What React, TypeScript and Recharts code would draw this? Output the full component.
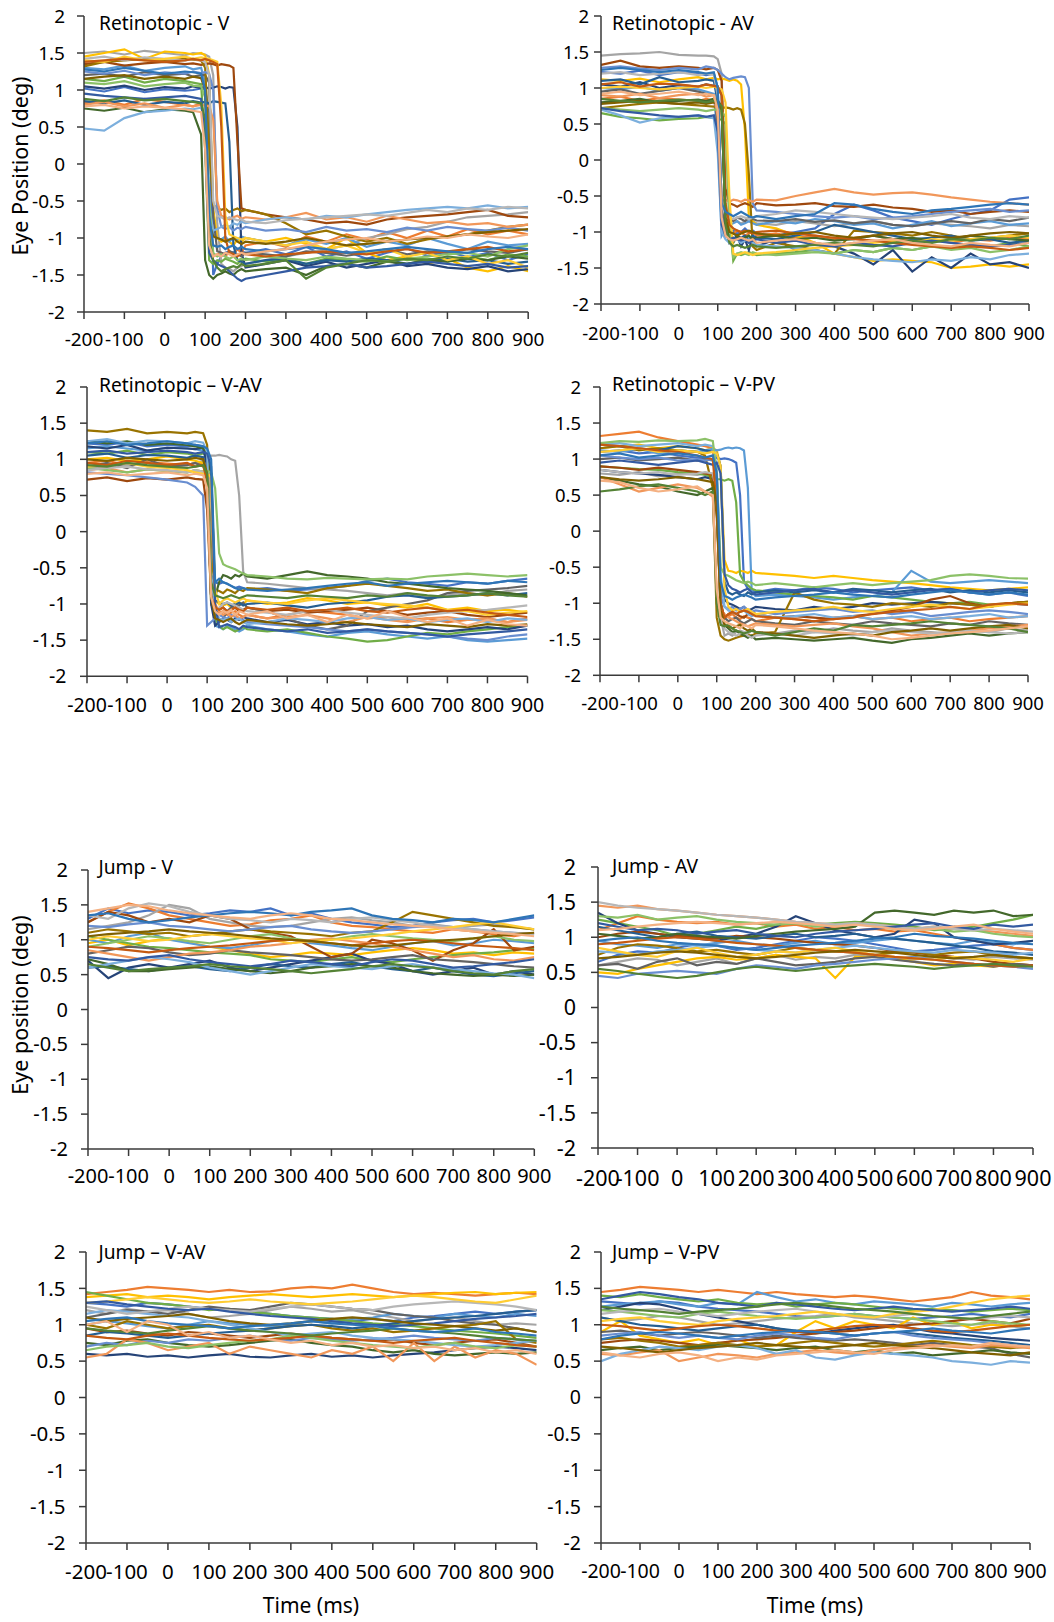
import React from 'react';
import { LineChart, Line, XAxis, YAxis } from 'recharts';

const FONT = "'Noto Sans', sans-serif";
const AXIS = '#3a3a3a';

const retinoTimes = [-200, -150, -100, -50, 0, 50, 70, 90, 100, 110, 120, 130, 140, 150, 160, 170, 180, 190, 200, 250, 300, 350, 400, 450, 500, 550, 600, 650, 700, 750, 800, 850, 900];
const jumpTimes = [-200, -150, -100, -50, 0, 50, 100, 150, 200, 250, 300, 350, 400, 450, 500, 550, 600, 650, 700, 750, 800, 850, 900];
const xTicks = [-200, -100, 0, 100, 200, 300, 400, 500, 600, 700, 800, 900];
const yTicks = [-2, -1.5, -1, -0.5, 0, 0.5, 1, 1.5, 2];
const colors = ['#4472C4', '#ED7D31', '#A5A5A5', '#FFC000', '#5B9BD5', '#70AD47', '#264478', '#9E480E', '#636363', '#997300', '#255E91', '#43682B', '#698ED0', '#F1975A', '#7CAFDD', '#8CC168', '#B7B7B7', '#FFCD33', '#335AA1', '#C55A11', '#7F6000', '#548235', '#2E75B6', '#F4B183'];

const retinotopicV: number[][] = [
  [1.02,0.98,1.04,0.97,1.01,0.99,1.0,1.02, 1.0,0.7,-1.5,-1.35,-1.25,-1.2,-1.18,-1.2,-1.15,-1.18,-1.2, -1.15,-1.22,-1.12,-1.25,-1.18,-1.28,-1.2,-1.14,-1.24,-1.18,-1.26,-1.2,-1.3,-1.22],
  [0.82,0.86,0.8,0.88,0.84,0.8,0.78,0.82, 0.4,-0.9,-1.25,-1.22,-1.2,-1.25,-1.18,-1.22,-1.15,-1.2,-1.1, -1.05,-1.12,-0.98,-1.05,-0.95,-1.02,-0.92,-1.0,-0.9,-0.98,-0.88,-0.95,-0.9,-0.95],
  [1.5,1.52,1.48,1.53,1.5,1.47,1.5,1.49, 1.48,1.45,1.2,-0.8,-1.35,-1.4,-1.42,-1.45,-1.4,-1.38,-1.35, -1.3,-1.25,-1.2,-1.15,-1.1,-1.0,-0.95,-0.88,-0.85,-0.78,-0.72,-0.7,-0.68,-0.65],
  [1.45,1.5,1.55,1.42,1.52,1.5,1.48,1.5, 1.47,1.2,-0.6,-1.0,-1.05,-1.02,-1.05,-1.1,-1.02,-1.05,-1.0, -1.05,-1.0,-1.08,-1.15,-1.0,-1.2,-1.3,-1.25,-1.35,-1.28,-1.4,-1.45,-1.38,-1.45],
  [1.3,1.28,1.33,1.26,1.3,1.32,1.28,1.3, 1.1,-0.5,-0.95,-1.0,-1.02,-0.98,-1.05,-1.0,-1.02,-0.98,-1.0, -1.05,-1.1,-1.02,-1.08,-1.0,-1.12,-1.05,-1.1,-1.0,-1.08,-1.15,-1.05,-1.1,-1.08],
  [1.15,1.12,1.18,1.1,1.15,1.12,1.1,1.08, 0.2,-1.3,-1.35,-1.3,-1.32,-1.28,-1.3,-1.32,-1.35,-1.3,-1.28, -1.32,-1.3,-1.35,-1.28,-1.3,-1.32,-1.25,-1.3,-1.28,-1.32,-1.25,-1.3,-1.22,-1.25],
  [1.05,1.02,1.06,1.0,1.04,1.02,1.05,1.03, 1.04,1.02,1.03,1.05,1.04,1.02,1.04,1.03,0.5,-1.2,-1.4, -1.35,-1.3,-1.38,-1.32,-1.4,-1.35,-1.3,-1.38,-1.35,-1.4,-1.42,-1.38,-1.45,-1.42],
  [1.35,1.38,1.33,1.36,1.38,1.35,1.36,1.34, 1.35,1.36,1.35,1.33,1.35,1.34,1.33,1.3,0.3,-0.6,-0.62, -0.68,-0.72,-0.75,-0.8,-0.78,-0.82,-0.75,-0.72,-0.7,-0.68,-0.65,-0.62,-0.7,-0.72],
  [1.2,1.22,1.18,1.24,1.2,1.22,1.18,1.2, 1.2,1.1,-0.7,-1.18,-1.2,-1.22,-1.18,-1.2,-1.22,-1.25,-1.2, -1.22,-1.25,-1.18,-1.2,-1.24,-1.2,-1.15,-1.22,-1.18,-1.2,-1.15,-1.18,-1.2,-1.15],
  [1.32,1.38,1.4,1.42,1.4,1.42,1.41,1.4, 1.3,0.2,-0.55,-0.6,-0.62,-0.6,-0.65,-0.62,-0.6,-0.64,-0.62, -0.68,-0.8,-0.95,-0.9,-0.98,-1.05,-1.0,-1.08,-1.02,-0.98,-0.95,-0.9,-0.85,-0.82],
  [0.85,0.82,0.86,0.8,0.84,0.82,0.85,0.83, 0.84,0.82,0.85,0.84,0.83,0.82,0.3,-1.1,-1.3,-1.32,-1.35, -1.3,-1.28,-1.35,-1.3,-1.32,-1.28,-1.3,-1.35,-1.3,-1.28,-1.32,-1.3,-1.35,-1.32],
  [0.75,0.72,0.76,0.7,0.74,0.72,0.7,0.4, -1.3,-1.5,-1.55,-1.5,-1.48,-1.45,-1.48,-1.5,-1.45,-1.42,-1.45, -1.42,-1.4,-1.5,-1.38,-1.35,-1.4,-1.32,-1.35,-1.3,-1.32,-1.28,-1.3,-1.25,-1.28],
  [1.25,1.22,1.26,1.2,1.24,1.22,1.25,1.23, 1.24,1.22,1.0,-0.6,-0.85,-0.88,-0.85,-0.9,-0.86,-0.88,-0.85, -0.9,-0.88,-0.92,-0.85,-0.9,-0.88,-0.92,-0.86,-0.9,-0.85,-0.88,-0.9,-0.86,-0.9],
  [0.8,0.84,0.78,0.82,0.76,0.8,0.78,0.8, 0.79,0.78,0.6,-0.5,-0.7,-0.72,-0.75,-0.72,-0.7,-0.74,-0.72, -0.75,-0.72,-0.66,-0.75,-0.72,-0.78,-0.7,-0.75,-0.8,-0.78,-0.82,-0.8,-0.85,-0.82],
  [0.48,0.45,0.62,0.7,0.72,0.75,0.74,0.76, 0.6,-0.6,-0.9,-0.88,-0.85,-0.82,-0.85,-0.8,-0.82,-0.78,-0.8, -0.75,-0.72,-0.75,-0.7,-0.72,-0.68,-0.65,-0.62,-0.6,-0.58,-0.6,-0.56,-0.6,-0.58],
  [1.1,1.08,1.12,1.05,1.08,1.1,1.06,1.05, 0.9,-0.5,-1.2,-1.25,-1.22,-1.25,-1.28,-1.25,-1.3,-1.28,-1.3, -1.25,-1.28,-1.3,-1.25,-1.28,-1.3,-1.32,-1.28,-1.25,-1.22,-1.2,-1.25,-1.15,-1.1],
  [1.42,1.45,1.4,1.44,1.42,1.4,1.42,1.4, 1.38,1.2,-0.5,-0.7,-0.72,-0.75,-0.72,-0.74,-0.76,-0.75,-0.78, -0.8,-0.76,-0.74,-0.72,-0.7,-0.68,-0.7,-0.66,-0.62,-0.65,-0.6,-0.62,-0.58,-0.6],
  [1.4,1.38,1.45,1.4,1.42,1.45,1.42,1.44, 1.43,1.42,1.4,1.38,0.8,-0.7,-0.95,-0.98,-1.0,-1.02,-1.0, -1.05,-1.1,-1.05,-1.15,-1.1,-1.2,-1.15,-1.25,-1.2,-1.3,-1.25,-1.35,-1.3,-1.4],
  [0.95,0.92,0.9,0.88,0.9,0.92,0.9,0.88, 0.3,-1.2,-1.3,-1.35,-1.38,-1.4,-1.45,-1.5,-1.55,-1.58,-1.55, -1.5,-1.45,-1.4,-1.38,-1.35,-1.4,-1.38,-1.35,-1.32,-1.35,-1.38,-1.35,-1.4,-1.38],
  [1.38,1.4,1.42,1.4,1.38,1.4,1.42,1.4, 1.42,1.4,1.38,1.35,0.5,-1.0,-1.2,-1.22,-1.25,-1.2,-1.22, -1.25,-1.22,-1.2,-1.18,-1.2,-1.22,-1.18,-1.15,-1.2,-1.18,-1.15,-1.12,-1.18,-1.15],
  [1.15,1.18,1.2,1.15,1.18,1.15,1.18,1.16, 1.0,-0.8,-0.98,-1.0,-1.02,-1.05,-1.02,-1.0,-1.05,-1.08,-1.05, -1.08,-1.05,-1.0,-1.05,-1.1,-1.08,-1.05,-1.02,-1.0,-0.98,-0.95,-0.92,-0.9,-0.88],
  [0.88,0.85,0.9,0.86,0.88,0.85,0.84,0.82, 0.6,-1.0,-1.3,-1.4,-1.45,-1.42,-1.4,-1.38,-1.4,-1.35,-1.38, -1.35,-1.3,-1.55,-1.4,-1.35,-1.3,-1.32,-1.28,-1.3,-1.25,-1.28,-1.22,-1.25,-1.2],
  [1.28,1.25,1.3,1.26,1.22,1.25,1.24,1.22, 1.0,-0.7,-1.1,-1.12,-1.1,-1.15,-1.12,-1.1,-1.15,-1.12,-1.15, -1.18,-1.15,-1.12,-1.15,-1.2,-1.18,-1.15,-1.12,-1.15,-1.18,-1.2,-1.15,-1.12,-1.15],
  [0.78,0.8,0.75,0.78,0.76,0.74,0.72,0.7, 0.2,-1.1,-1.25,-1.22,-1.25,-1.2,-1.22,-1.25,-1.22,-1.2,-1.22, -1.18,-1.15,-1.1,-1.05,-1.02,-1.0,-1.05,-1.02,-0.98,-1.0,-0.95,-0.98,-1.0,-0.95],
];

const retinotopicAV: number[][] = [
  [1.22,1.2,1.24,1.18,1.22,1.2,1.18,1.2, 1.0,-0.6,-1.05,-1.0,-0.98,-1.02,-1.0,-0.95,-1.0,-0.98,-1.02, -1.05,-1.0,-0.95,-0.75,-0.62,-0.7,-0.8,-0.85,-0.9,-0.82,-0.75,-0.7,-0.55,-0.52],
  [0.85,0.88,0.82,0.86,0.84,0.82,0.85,0.83, 0.84,0.7,-0.8,-1.0,-1.02,-0.98,-1.0,-1.05,-1.02,-1.0,-1.05, -1.02,-1.08,-1.05,-1.1,-1.08,-1.05,-1.1,-1.12,-1.1,-1.15,-1.1,-1.12,-1.08,-1.1],
  [1.45,1.47,1.48,1.5,1.46,1.45,1.45,1.44, 1.4,1.2,-0.7,-0.85,-0.82,-0.85,-0.88,-0.85,-0.82,-0.85,-0.88, -0.9,-0.85,-0.88,-0.92,-0.88,-0.85,-0.9,-0.92,-0.88,-0.9,-0.92,-0.95,-0.9,-0.92],
  [1.12,1.1,1.13,1.08,1.12,1.15,1.12,1.14, 1.12,1.13,1.12,1.1,1.12,1.1,1.05,0.4,-0.8,-0.85,-0.9, -0.95,-1.05,-1.15,-1.3,-1.35,-1.4,-1.38,-1.4,-1.42,-1.5,-1.48,-1.45,-1.48,-1.45],
  [1.0,0.98,1.02,0.96,1.0,0.98,0.95,0.92, 0.3,-1.05,-0.95,-0.9,-0.88,-0.85,-0.9,-0.88,-0.85,-0.88,-0.9, -0.85,-0.88,-0.82,-0.85,-0.9,-0.88,-0.95,-0.9,-0.85,-0.92,-0.88,-0.85,-0.9,-0.88],
  [0.65,0.6,0.58,0.55,0.57,0.58,0.6,0.58, 0.57,0.56,0.5,-0.8,-1.4,-1.3,-1.32,-1.3,-1.28,-1.3,-1.32, -1.3,-1.28,-1.25,-1.3,-1.25,-1.28,-1.22,-1.25,-1.2,-1.22,-1.18,-1.2,-1.15,-1.2],
  [1.05,1.02,1.08,1.0,1.04,1.02,1.05,1.03, 1.02,0.9,-0.9,-1.15,-1.1,-1.05,-1.2,-1.1,-1.25,-1.05,-1.2, -1.1,-1.25,-1.15,-1.2,-1.3,-1.45,-1.25,-1.55,-1.35,-1.5,-1.3,-1.45,-1.42,-1.5],
  [1.32,1.38,1.3,1.28,1.3,1.28,1.26,1.28, 1.25,1.1,-0.4,-0.6,-0.62,-0.65,-0.62,-0.6,-0.62,-0.65,-0.6, -0.63,-0.62,-0.6,-0.64,-0.65,-0.62,-0.66,-0.68,-0.72,-0.7,-0.75,-0.72,-0.7,-0.72],
  [0.95,0.98,0.92,0.96,1.0,0.95,0.92,0.9, 0.5,-0.7,-0.85,-0.82,-0.85,-0.8,-0.82,-0.85,-0.8,-0.82,-0.84, -0.85,-0.82,-0.86,-0.84,-0.88,-0.85,-0.9,-0.92,-0.88,-0.85,-0.88,-0.82,-0.85,-0.8],
  [0.72,0.75,0.78,0.8,0.78,0.76,0.75,0.74, 0.75,0.72,0.73,0.72,0.7,0.72,0.7,0.5,-0.2,-1.2,-1.25, -1.15,-1.2,-1.25,-1.3,-0.98,-1.0,-1.02,-1.05,-1.0,-1.05,-1.1,-1.08,-1.05,-1.02],
  [1.1,1.12,1.05,1.15,1.08,1.1,1.12,1.1, 0.8,-0.8,-1.0,-1.05,-1.02,-1.05,-1.08,-1.05,-1.1,-1.05,-1.08, -1.1,-1.05,-1.0,-0.9,-0.95,-1.0,-1.05,-1.1,-1.08,-1.05,-1.12,-1.1,-1.15,-1.12],
  [0.8,0.82,0.85,0.8,0.82,0.84,0.82,0.85, 0.82,0.75,-0.9,-1.1,-1.15,-1.05,-1.1,-1.08,-1.05,-1.1,-1.08, -1.05,-1.1,-1.08,-1.12,-1.1,-1.05,-1.1,-1.08,-1.12,-1.1,-1.05,-1.08,-1.1,-1.12],
  [1.28,1.3,1.27,1.25,1.28,1.26,1.3,1.28, 1.25,1.2,1.15,1.12,1.14,1.15,1.16,1.15,1.0,-0.6,-0.7, -0.72,-0.75,-0.78,-0.8,-0.78,-0.82,-0.8,-0.78,-0.75,-0.72,-0.7,-0.68,-0.72,-0.7],
  [0.9,0.88,0.92,0.86,0.9,0.92,0.88,0.9, 0.6,-0.5,-0.55,-0.58,-0.55,-0.56,-0.58,-0.55,-0.56,-0.58,-0.55, -0.56,-0.5,-0.45,-0.4,-0.45,-0.48,-0.46,-0.45,-0.48,-0.52,-0.55,-0.58,-0.6,-0.62],
  [0.7,0.62,0.52,0.58,0.6,0.62,0.6,0.58, 0.1,-1.0,-1.1,-1.15,-1.12,-1.1,-1.15,-1.12,-1.1,-1.15,-1.18, -1.2,-1.22,-1.25,-1.3,-1.35,-1.38,-1.4,-1.42,-1.38,-1.4,-1.35,-1.38,-1.32,-1.3],
  [0.72,0.7,0.68,0.7,0.72,0.7,0.68,0.7, 0.7,0.68,0.6,-0.9,-1.35,-1.3,-1.28,-1.3,-1.32,-1.28,-1.3, -1.32,-1.3,-1.28,-1.3,-1.25,-1.28,-1.22,-1.25,-1.2,-1.25,-1.22,-1.28,-1.25,-1.2],
  [1.2,1.22,1.18,1.2,1.22,1.18,1.2,1.18, 0.9,-0.6,-0.78,-0.8,-0.82,-0.8,-0.78,-0.8,-0.82,-0.8,-0.78, -0.75,-0.7,-0.72,-0.75,-0.78,-0.8,-0.82,-0.8,-0.78,-0.75,-0.8,-0.82,-0.78,-0.8],
  [1.0,1.02,1.0,0.98,1.0,1.02,1.0,1.02, 1.0,0.98,0.8,-0.5,-1.3,-1.32,-1.3,-1.28,-1.3,-1.32,-1.3, -1.28,-1.25,-1.22,-1.2,-1.18,-1.15,-1.12,-1.15,-1.1,-1.12,-1.1,-1.08,-1.05,-1.08],
  [0.72,0.68,0.65,0.62,0.6,0.62,0.6,0.62, 0.4,-0.9,-1.05,-1.1,-1.08,-1.1,-1.12,-1.1,-1.15,-1.12,-1.1, -1.15,-1.12,-1.18,-1.2,-1.15,-1.18,-1.2,-1.15,-1.12,-1.15,-1.18,-1.2,-1.18,-1.15],
  [1.05,1.08,1.02,1.06,1.05,1.02,1.05,1.03, 1.02,0.9,-0.6,-0.9,-0.95,-0.98,-1.0,-0.98,-1.0,-1.02,-1.0, -0.98,-1.02,-1.05,-1.08,-1.1,-1.12,-1.15,-1.18,-1.2,-1.22,-1.2,-1.22,-1.25,-1.22],
  [0.78,0.8,0.82,0.8,0.78,0.8,0.78,0.8, 0.78,0.7,-0.8,-1.0,-1.02,-1.05,-1.02,-1.0,-0.98,-1.0,-1.02, -1.05,-1.02,-1.0,-1.05,-1.08,-1.05,-1.02,-1.0,-1.05,-1.08,-1.05,-1.02,-1.0,-1.02],
  [0.85,0.82,0.8,0.82,0.84,0.82,0.8,0.82, 0.8,0.75,-0.9,-1.15,-1.2,-1.18,-1.2,-1.22,-1.2,-1.18,-1.2, -1.22,-1.2,-1.18,-1.15,-1.18,-1.2,-1.15,-1.12,-1.15,-1.1,-1.12,-1.08,-1.1,-1.05],
  [1.25,1.28,1.25,1.22,1.25,1.22,1.2,1.22, 1.0,-0.6,-0.72,-0.75,-0.78,-0.75,-0.72,-0.75,-0.78,-0.8,-0.78, -0.82,-0.78,-0.75,-0.6,-0.62,-0.68,-0.72,-0.75,-0.7,-0.68,-0.65,-0.62,-0.6,-0.62],
  [0.92,0.95,0.9,0.92,0.95,0.9,0.92,0.9, 0.7,-0.8,-1.05,-1.1,-1.12,-1.1,-1.08,-1.1,-1.12,-1.1,-1.15, -1.12,-1.1,-1.15,-1.18,-1.15,-1.12,-1.1,-1.15,-1.18,-1.2,-1.15,-1.18,-1.2,-1.15],
];

const retinotopicVAV: number[][] = [
  [1.22,1.2,1.24,1.18,1.2,1.18,1.2,1.18, 1.0,-0.6,-0.7,-0.72,-0.7,-0.72,-0.75,-0.78,-0.76,-0.78,-0.8, -0.78,-0.82,-0.8,-0.78,-0.75,-0.68,-0.65,-0.7,-0.72,-0.75,-0.7,-0.72,-0.68,-0.65],
  [0.95,0.98,0.92,0.96,0.94,0.92,0.95,0.93, 0.8,-0.8,-1.1,-1.12,-1.1,-1.15,-1.12,-1.1,-1.15,-1.18,-1.15, -1.2,-1.15,-1.1,-1.12,-1.15,-1.2,-1.18,-1.22,-1.2,-1.25,-1.22,-1.2,-1.25,-1.2],
  [0.9,0.88,0.92,0.95,0.9,0.92,0.95,0.98, 1.02,1.05,1.05,1.06,1.05,1.04,1.0,0.98,0.5,-0.55,-0.7, -0.72,-0.75,-0.78,-0.8,-0.82,-0.85,-0.88,-0.85,-0.9,-0.88,-0.85,-0.88,-0.82,-0.8],
  [1.0,1.02,0.98,1.0,1.04,1.0,0.98,0.95, 0.6,-1.0,-0.95,-1.0,-1.02,-1.0,-1.05,-1.0,-0.98,-1.0,-0.95, -1.0,-0.98,-0.92,-0.95,-1.0,-0.98,-1.02,-1.05,-1.0,-1.08,-1.05,-1.1,-1.08,-1.12],
  [1.15,1.18,1.15,1.12,1.16,1.15,1.14,1.12, 1.0,-0.8,-1.3,-1.32,-1.35,-1.3,-1.32,-1.35,-1.38,-1.35,-1.3, -1.35,-1.38,-1.42,-1.45,-1.4,-1.38,-1.42,-1.45,-1.48,-1.45,-1.5,-1.52,-1.5,-1.48],
  [1.1,1.08,1.12,1.06,1.1,1.08,1.05,1.08, 1.06,0.8,-1.2,-1.3,-1.35,-1.32,-1.35,-1.38,-1.35,-1.32,-1.35, -1.38,-1.35,-1.4,-1.45,-1.48,-1.52,-1.5,-1.45,-1.4,-1.42,-1.38,-1.35,-1.32,-1.3],
  [1.18,1.15,1.2,1.12,1.16,1.15,1.14,1.16, 0.9,-1.0,-1.3,-1.25,-1.2,-1.22,-1.25,-1.2,-1.22,-1.18,-1.2, -1.25,-1.22,-1.28,-1.25,-1.3,-1.28,-1.32,-1.3,-1.35,-1.38,-1.35,-1.32,-1.35,-1.3],
  [0.72,0.75,0.7,0.74,0.72,0.75,0.73,0.72, 0.3,-0.9,-1.05,-1.08,-1.05,-1.1,-1.08,-1.05,-1.1,-1.08,-1.05, -1.1,-1.08,-1.12,-1.1,-1.08,-1.05,-1.1,-1.15,-1.12,-1.1,-1.15,-1.18,-1.15,-1.12],
  [0.9,0.95,0.88,1.0,0.9,0.92,0.95,0.9, 0.88,0.8,-1.1,-1.25,-1.2,-1.1,-1.05,-1.0,-1.02,-0.98,-1.05, -1.1,-1.2,-1.3,-1.35,-1.3,-1.1,-1.05,-1.0,-0.95,-0.85,-0.82,-0.8,-0.78,-0.75],
  [1.4,1.38,1.42,1.36,1.38,1.36,1.38,1.36, 1.2,-0.3,-0.8,-0.82,-0.85,-0.8,-0.82,-0.85,-0.8,-0.82,-0.78, -0.8,-0.82,-0.85,-0.78,-0.75,-0.72,-0.75,-0.78,-0.82,-0.8,-0.85,-0.88,-0.85,-0.9],
  [1.05,1.08,1.02,1.06,1.05,1.02,1.05,1.03, 0.7,-0.9,-0.95,-0.98,-1.0,-0.98,-1.02,-1.0,-0.98,-1.02,-1.0, -0.98,-1.02,-1.05,-1.0,-0.98,-0.95,-0.9,-0.88,-0.92,-0.9,-0.88,-0.85,-0.88,-0.85],
  [1.25,1.22,1.25,1.2,1.22,1.2,1.18,1.15, 1.1,0.8,-0.9,-0.7,-0.6,-0.62,-0.65,-0.6,-0.62,-0.58,-0.62, -0.65,-0.6,-0.55,-0.6,-0.62,-0.65,-0.7,-0.72,-0.75,-0.78,-0.8,-0.82,-0.85,-0.88],
  [0.82,0.8,0.78,0.75,0.72,0.68,0.62,0.5, -1.3,-1.25,-1.2,-1.15,-1.18,-1.2,-1.15,-1.18,-1.2,-1.22,-1.25, -1.28,-1.3,-1.32,-1.35,-1.38,-1.35,-1.38,-1.4,-1.42,-1.45,-1.48,-1.5,-1.45,-1.42],
  [0.85,0.88,0.82,0.86,0.84,0.82,0.85,0.83, 0.84,0.7,-1.0,-1.1,-1.15,-1.12,-1.18,-1.15,-1.2,-1.18,-1.15, -1.2,-1.18,-1.15,-1.2,-1.25,-1.18,-1.22,-1.25,-1.2,-1.18,-1.22,-1.2,-1.25,-1.22],
  [1.25,1.28,1.22,1.26,1.25,1.22,1.25,1.23, 1.1,-0.6,-1.1,-1.2,-1.22,-1.2,-1.25,-1.22,-1.2,-1.25,-1.28, -1.25,-1.2,-1.22,-1.25,-1.2,-1.18,-1.22,-1.2,-1.25,-1.22,-1.2,-1.25,-1.2,-1.22],
  [0.88,0.85,0.82,0.86,0.84,0.82,0.85,0.83, 0.84,0.82,0.6,-0.3,-0.45,-0.48,-0.5,-0.52,-0.55,-0.58,-0.6, -0.62,-0.65,-0.66,-0.64,-0.65,-0.66,-0.65,-0.66,-0.62,-0.6,-0.58,-0.6,-0.62,-0.6],
  [0.85,0.88,0.9,0.86,0.85,0.82,0.85,0.83, 0.6,-0.9,-1.1,-1.05,-1.0,-0.98,-1.0,-1.02,-1.05,-1.08,-1.1, -1.12,-1.15,-1.1,-1.08,-1.12,-1.15,-1.18,-1.2,-1.15,-1.12,-1.1,-1.08,-1.05,-1.02],
  [0.9,0.92,0.95,0.9,0.88,0.85,0.82,0.8, 0.8,0.75,-0.8,-1.0,-0.95,-0.92,-0.95,-0.98,-0.95,-0.92,-0.95, -0.98,-1.0,-0.95,-0.92,-0.95,-0.98,-1.0,-1.02,-1.05,-1.08,-1.1,-1.15,-1.12,-1.1],
  [1.1,1.12,1.08,1.1,1.12,1.1,1.08,1.1, 1.08,0.9,-1.0,-1.32,-1.3,-1.28,-1.3,-1.32,-1.35,-1.3,-1.32, -1.35,-1.38,-1.35,-1.4,-1.38,-1.35,-1.38,-1.4,-1.42,-1.45,-1.42,-1.4,-1.38,-1.35],
  [0.95,0.92,0.98,0.95,0.92,0.95,0.9,0.92, 0.7,-0.9,-1.05,-1.08,-1.05,-1.1,-1.08,-1.05,-1.08,-1.1,-1.05, -1.08,-1.05,-1.1,-1.08,-1.05,-1.1,-1.12,-1.08,-1.05,-1.1,-1.08,-1.12,-1.15,-1.18],
  [1.0,0.98,1.02,1.0,0.98,1.0,1.02,1.0, 0.8,-0.9,-1.2,-1.22,-1.25,-1.22,-1.2,-1.25,-1.28,-1.25,-1.22, -1.25,-1.28,-1.3,-1.28,-1.25,-1.28,-1.3,-1.32,-1.28,-1.3,-1.32,-1.28,-1.3,-1.28],
  [0.92,0.9,0.95,0.92,0.9,0.88,0.9,0.92, 0.8,-0.7,-0.88,-0.9,-0.92,-0.9,-0.88,-0.9,-0.92,-0.9,-0.88, -0.9,-0.92,-0.88,-0.9,-0.92,-0.88,-0.9,-0.85,-0.88,-0.9,-0.88,-0.85,-0.88,-0.9],
  [1.22,1.25,1.2,1.22,1.25,1.22,1.2,1.18, 1.15,1.0,-0.7,-0.65,-0.7,-0.72,-0.75,-0.78,-0.8,-0.78,-0.8, -0.82,-0.8,-0.78,-0.75,-0.72,-0.7,-0.75,-0.72,-0.7,-0.68,-0.7,-0.72,-0.68,-0.7],
  [0.8,0.82,0.78,0.8,0.82,0.78,0.8,0.78, 0.6,-0.9,-1.1,-1.15,-1.1,-1.12,-1.08,-1.15,-1.1,-1.12,-1.15, -1.1,-1.2,-1.15,-1.25,-1.15,-1.2,-1.1,-1.18,-1.25,-1.2,-1.3,-1.22,-1.28,-1.3],
];

const retinotopicVPV: number[][] = [
  [1.1,1.12,1.08,1.1,1.05,1.02,1.0,1.0, 1.02,1.0,1.01,1.0,0.98,0.95,0.5,-0.7,-0.8,-0.82,-0.85, -0.8,-0.82,-0.78,-0.8,-0.85,-0.82,-0.8,-0.78,-0.82,-0.8,-0.85,-0.88,-0.85,-0.9],
  [1.32,1.35,1.38,1.3,1.25,1.2,1.18,1.15, 0.5,-1.0,-1.2,-1.18,-1.15,-1.2,-1.22,-1.18,-1.2,-1.22,-1.25, -1.2,-1.22,-1.25,-1.2,-1.18,-1.22,-1.2,-1.25,-1.22,-1.2,-1.25,-1.22,-1.2,-1.18],
  [0.8,0.78,0.82,0.76,0.8,0.78,0.8,0.78, 0.5,-1.2,-1.45,-1.42,-1.45,-1.4,-1.38,-1.4,-1.42,-1.38,-1.4, -1.42,-1.38,-1.4,-1.35,-1.38,-1.4,-1.35,-1.38,-1.4,-1.42,-1.38,-1.4,-1.35,-1.38],
  [1.15,1.18,1.2,1.15,1.18,1.15,1.12,1.15, 1.12,0.9,-0.4,-0.55,-0.56,-0.58,-0.55,-0.56,-0.58,-0.55,-0.58, -0.6,-0.62,-0.65,-0.62,-0.65,-0.68,-0.7,-0.72,-0.75,-0.78,-0.8,-0.82,-0.8,-0.78],
  [1.12,1.1,1.14,1.08,1.12,1.1,1.12,1.14, 1.12,1.13,1.15,1.16,1.15,1.16,1.15,1.12,0.6,-0.85,-0.9, -0.88,-0.9,-0.92,-0.95,-0.92,-0.9,-0.85,-0.55,-0.7,-0.72,-0.7,-0.68,-0.7,-0.72],
  [0.9,0.88,0.86,0.85,0.82,0.8,0.78,0.75, 0.72,0.72,0.7,0.72,0.7,0.4,-0.6,-0.7,-0.75,-0.8,-0.82, -0.85,-0.88,-0.9,-0.92,-0.95,-0.9,-0.92,-0.95,-0.98,-1.0,-0.98,-1.02,-1.0,-0.98],
  [0.85,0.82,0.8,0.78,0.75,0.72,0.75,0.72, 0.5,-0.8,-0.95,-1.0,-1.02,-1.05,-1.08,-1.05,-1.1,-1.08,-1.05, -1.08,-1.1,-1.05,-1.08,-1.05,-1.0,-1.02,-1.0,-0.98,-1.0,-1.02,-1.05,-1.0,-1.02],
  [0.9,0.88,0.85,0.88,0.85,0.82,0.8,0.78, 0.2,-1.05,-1.2,-1.15,-1.12,-1.15,-1.18,-1.2,-1.15,-1.12,-1.15, -1.2,-1.18,-1.2,-1.22,-1.18,-1.15,-1.1,-1.05,-0.95,-0.9,-1.0,-1.05,-1.0,-0.98],
  [1.0,1.02,0.98,1.0,1.02,0.98,1.0,0.98, 0.7,-1.0,-1.2,-1.25,-1.22,-1.2,-1.25,-1.28,-1.25,-1.22,-1.25, -1.28,-1.3,-1.25,-1.28,-1.3,-1.25,-1.28,-1.3,-1.32,-1.28,-1.3,-1.25,-1.28,-1.3],
  [1.15,1.18,1.12,1.15,1.12,1.1,1.05,0.6, -1.2,-1.45,-1.5,-1.52,-1.5,-1.48,-1.46,-1.45,-1.44,-1.45,-1.42, -1.4,-0.85,-0.95,-1.0,-1.02,-1.05,-1.0,-1.02,-1.05,-1.0,-1.02,-1.05,-1.0,-0.98],
  [1.2,1.18,1.15,1.12,1.18,1.15,1.12,1.1, 1.08,0.9,-0.7,-0.85,-0.88,-0.85,-0.88,-0.9,-0.85,-0.88,-0.85, -0.82,-0.85,-0.82,-0.85,-0.8,-0.82,-0.85,-0.82,-0.8,-0.85,-0.82,-0.85,-0.82,-0.85],
  [0.75,0.7,0.65,0.62,0.55,0.5,0.55,0.6, 0.3,-1.0,-1.3,-1.35,-1.4,-1.38,-1.42,-1.45,-1.48,-1.45,-1.5, -1.48,-1.5,-1.52,-1.5,-1.48,-1.52,-1.55,-1.5,-1.48,-1.45,-1.42,-1.45,-1.42,-1.4],
  [1.05,1.02,1.0,1.02,0.98,1.0,0.98,1.0, 0.8,-0.9,-1.05,-1.08,-1.05,-1.1,-1.08,-1.05,-1.1,-1.12,-1.1, -1.15,-1.12,-1.1,-1.08,-1.12,-1.1,-1.15,-1.12,-1.18,-1.15,-1.12,-1.1,-1.12,-1.15],
  [0.75,0.65,0.55,0.6,0.65,0.6,0.55,0.48, -0.9,-1.1,-1.15,-1.2,-1.22,-1.25,-1.28,-1.3,-1.32,-1.3,-1.28, -1.3,-1.32,-1.3,-1.28,-1.32,-1.35,-1.4,-1.45,-1.42,-1.4,-1.38,-1.35,-1.32,-1.3],
  [1.2,1.22,1.18,1.2,1.22,1.18,1.2,1.18, 0.9,-0.6,-1.05,-1.1,-1.12,-1.15,-1.12,-1.1,-1.15,-1.18,-1.15, -1.2,-1.18,-1.15,-1.2,-1.18,-1.22,-1.2,-1.18,-1.22,-1.2,-1.18,-1.15,-1.2,-1.18],
  [1.22,1.25,1.24,1.26,1.25,1.26,1.28,1.25, 0.8,-0.5,-0.6,-0.62,-0.65,-0.68,-0.7,-0.72,-0.7,-0.72,-0.75, -0.72,-0.75,-0.78,-0.75,-0.72,-0.75,-0.72,-0.7,-0.68,-0.62,-0.6,-0.62,-0.65,-0.66],
  [0.85,0.82,0.8,0.82,0.78,0.8,0.82,0.8, 0.5,-1.2,-1.35,-1.4,-1.42,-1.45,-1.42,-1.4,-1.45,-1.48,-1.45, -1.42,-1.45,-1.4,-1.42,-1.45,-1.4,-1.38,-1.4,-1.42,-1.4,-1.38,-1.4,-1.42,-1.4],
  [1.1,1.12,1.15,1.1,1.12,1.1,1.08,1.1, 1.08,0.9,-0.8,-1.05,-1.1,-1.08,-1.12,-1.1,-1.08,-1.12,-1.15, -1.12,-1.1,-1.08,-1.05,-1.1,-1.12,-1.08,-1.05,-1.02,-1.05,-1.08,-1.05,-1.02,-1.0],
  [0.95,0.98,0.95,0.92,0.95,0.98,0.95,0.92, 0.95,0.8,-0.6,-0.75,-0.8,-0.82,-0.85,-0.82,-0.8,-0.85,-0.88, -0.85,-0.82,-0.8,-0.85,-0.82,-0.85,-0.88,-0.85,-0.82,-0.8,-0.85,-0.82,-0.8,-0.82],
  [1.2,1.18,1.15,1.12,1.1,1.05,1.02,1.0, 0.3,-1.0,-1.2,-1.15,-1.12,-1.15,-1.12,-1.1,-1.12,-1.15,-1.18, -1.2,-1.22,-1.25,-1.22,-1.2,-1.15,-1.12,-1.1,-1.08,-1.05,-1.08,-1.02,-1.0,-1.02],
  [0.75,0.72,0.7,0.72,0.75,0.72,0.7,0.68, 0.4,-1.1,-1.3,-1.32,-1.35,-1.32,-1.3,-1.35,-1.38,-1.35,-1.4, -1.42,-1.45,-1.48,-1.45,-1.42,-1.45,-1.4,-1.38,-1.35,-1.38,-1.35,-1.32,-1.3,-1.35],
  [0.55,0.58,0.62,0.65,0.6,0.55,0.5,0.55, -1.0,-1.3,-1.32,-1.3,-1.35,-1.38,-1.4,-1.42,-1.4,-1.38,-1.4, -1.45,-1.4,-1.35,-1.38,-1.3,-1.32,-1.3,-1.28,-1.25,-1.28,-1.3,-1.32,-1.35,-1.4],
  [1.05,1.08,1.02,1.05,1.08,1.05,1.02,1.05, 0.8,-0.7,-0.9,-0.92,-0.95,-0.92,-0.9,-0.88,-0.9,-0.92,-0.95, -0.92,-0.9,-0.88,-0.85,-0.88,-0.9,-0.92,-0.88,-0.85,-0.82,-0.85,-0.88,-0.85,-0.88],
  [0.7,0.68,0.6,0.55,0.58,0.62,0.55,0.5, -0.8,-1.2,-1.25,-1.28,-1.3,-1.32,-1.35,-1.3,-1.32,-1.35,-1.3, -1.32,-1.35,-1.38,-1.4,-1.42,-1.45,-1.5,-1.48,-1.45,-1.42,-1.4,-1.38,-1.35,-1.32],
];

const jumpV: number[][] = [
  [1.3,1.45,1.38,1.42,1.4,1.35,1.38,1.42,1.4,1.45,1.35,1.38,1.3,1.25,1.22,1.18,1.2,1.25,1.28,1.3,1.25,1.28,1.32],
  [1.25,1.4,1.52,1.45,1.35,1.3,1.25,1.2,1.22,1.28,1.3,1.35,1.25,1.2,1.18,1.15,1.12,1.1,1.15,1.12,1.08,1.05,1.1],
  [1.15,1.2,1.25,1.35,1.5,1.45,1.3,1.25,1.2,1.18,1.2,1.25,1.3,1.32,1.28,1.25,1.2,1.22,1.18,1.2,1.22,1.18,1.15],
  [0.95,1.0,0.92,0.98,1.02,0.96,0.9,0.85,0.8,0.75,0.78,0.82,0.8,0.78,0.82,0.85,0.88,0.85,0.8,0.82,0.78,0.82,0.8],
  [1.0,0.95,1.05,1.1,1.0,0.95,0.9,0.88,0.92,0.98,1.0,0.95,0.92,0.88,0.85,0.9,0.95,0.98,0.92,0.95,1.0,0.98,0.95],
  [1.05,1.0,0.95,0.9,0.88,0.85,0.82,0.8,0.78,0.72,0.7,0.68,0.72,0.75,0.7,0.68,0.72,0.75,0.78,0.8,0.82,0.85,0.88],
  [0.7,0.45,0.6,0.65,0.6,0.65,0.7,0.6,0.55,0.6,0.65,0.7,0.75,0.8,0.7,0.65,0.55,0.5,0.55,0.6,0.5,0.55,0.5],
  [1.25,1.4,1.35,1.25,1.3,1.25,1.35,1.3,1.15,1.1,1.05,0.9,0.75,0.8,1.0,0.95,0.85,0.7,0.85,0.95,1.15,0.85,0.9],
  [0.8,0.85,0.9,0.88,0.82,0.78,0.8,0.85,0.82,0.8,0.78,0.75,0.72,0.7,0.72,0.75,0.78,0.72,0.7,0.68,0.65,0.62,0.6],
  [1.1,1.15,1.12,1.08,1.1,1.05,1.08,1.12,1.15,1.12,1.1,1.08,1.05,1.1,1.12,1.25,1.4,1.35,1.3,1.25,1.2,1.18,1.15],
  [0.6,0.62,0.58,0.55,0.6,0.62,0.58,0.55,0.6,0.65,0.62,0.6,0.65,0.68,0.62,0.58,0.55,0.6,0.55,0.5,0.48,0.52,0.55],
  [0.72,0.65,0.55,0.55,0.58,0.6,0.62,0.58,0.55,0.52,0.55,0.6,0.62,0.65,0.62,0.6,0.55,0.52,0.5,0.48,0.5,0.48,0.5],
  [1.2,1.18,1.22,1.25,1.2,1.18,1.15,1.12,1.15,1.18,1.2,1.15,1.12,1.1,1.12,1.15,1.18,1.2,1.18,1.15,1.12,1.1,1.08],
  [0.85,0.8,0.75,0.7,0.75,0.8,0.82,0.85,0.9,0.92,0.95,1.0,1.02,0.98,0.95,0.9,0.85,0.8,0.75,0.78,0.72,0.7,0.75],
  [0.6,0.65,0.7,0.75,0.72,0.68,0.6,0.55,0.5,0.55,0.6,0.65,0.62,0.6,0.58,0.62,0.65,0.6,0.58,0.55,0.52,0.5,0.45],
  [0.9,0.95,1.0,1.05,1.02,0.98,0.95,1.0,1.05,1.08,1.02,0.98,1.0,1.05,1.08,1.05,1.02,1.0,0.98,1.02,1.05,1.0,0.98],
  [1.35,1.3,1.45,1.52,1.48,1.4,1.35,1.3,1.28,1.25,1.3,1.28,1.25,1.3,1.32,1.28,1.25,1.2,1.18,1.15,1.12,1.1,1.08],
  [1.0,1.05,1.02,0.98,1.0,1.05,1.08,1.05,1.02,1.0,0.95,0.98,1.0,1.02,1.05,1.08,1.12,1.15,1.18,1.22,1.25,1.2,1.15],
  [0.75,0.72,0.7,0.75,0.78,0.72,0.68,0.65,0.62,0.65,0.7,0.68,0.65,0.62,0.68,0.72,0.7,0.65,0.6,0.62,0.65,0.68,0.72],
  [0.9,0.88,0.85,0.82,0.85,0.88,0.9,0.92,0.95,0.98,1.0,0.98,0.95,0.92,0.95,0.98,1.0,0.98,0.95,0.92,0.9,0.88,0.85],
  [1.05,1.08,1.1,1.12,1.15,1.12,1.1,1.08,1.05,1.02,1.0,0.98,0.95,0.92,0.9,0.92,0.95,0.98,1.0,1.02,1.05,1.08,1.1],
  [0.65,0.6,0.55,0.58,0.6,0.62,0.65,0.62,0.6,0.58,0.55,0.52,0.55,0.58,0.62,0.65,0.62,0.6,0.55,0.52,0.5,0.55,0.58],
  [1.35,1.38,1.3,1.25,1.28,1.32,1.35,1.38,1.4,1.38,1.35,1.4,1.42,1.45,1.35,1.3,1.28,1.25,1.3,1.28,1.25,1.3,1.35],
  [1.4,1.45,1.5,1.48,1.42,1.38,1.35,1.32,1.3,1.35,1.38,1.35,1.3,1.28,1.25,1.22,1.2,1.18,1.15,1.12,1.1,1.08,1.05],
];

const jumpAV: number[][] = [
  [0.65,0.75,0.8,0.78,0.85,0.9,0.88,0.82,0.85,0.9,0.95,1.0,0.98,0.95,0.9,0.85,0.8,0.82,0.85,0.88,0.9,0.85,0.82],
  [1.1,1.2,1.3,1.25,1.22,1.2,1.22,1.18,1.2,1.15,1.18,1.12,1.15,1.1,1.12,1.08,1.1,1.05,1.0,0.95,0.9,0.85,0.82],
  [0.6,0.65,0.7,0.68,0.6,0.65,0.7,0.62,0.7,0.75,0.68,0.72,0.7,0.75,0.72,0.7,0.68,0.72,0.7,0.68,0.72,0.7,0.68],
  [0.5,0.48,0.55,0.6,0.65,0.7,0.72,0.68,0.7,0.75,0.72,0.7,0.42,0.72,0.72,0.7,0.65,0.6,0.62,0.6,0.58,0.62,0.6],
  [0.95,0.9,0.88,0.85,0.9,0.88,0.92,0.95,0.9,0.88,0.92,0.95,0.9,0.92,0.95,0.98,0.95,0.92,0.9,0.95,0.92,0.9,0.95],
  [1.25,1.2,1.15,1.1,1.02,1.05,1.1,1.15,1.12,1.18,1.2,1.18,1.2,1.22,1.2,1.18,1.15,1.1,1.12,1.15,1.2,1.25,1.32],
  [1.35,1.2,1.1,1.05,1.0,0.98,0.95,1.0,1.05,1.15,1.3,1.2,1.1,1.05,1.0,1.05,1.25,1.2,1.0,0.95,0.9,0.92,0.95],
  [1.0,1.05,1.08,1.05,1.02,1.0,0.98,1.02,1.0,0.98,0.95,0.92,0.9,0.88,0.85,0.8,0.78,0.75,0.72,0.7,0.65,0.62,0.6],
  [0.6,0.62,0.55,0.65,0.7,0.6,0.65,0.62,0.7,0.65,0.6,0.62,0.65,0.7,0.72,0.68,0.65,0.62,0.6,0.62,0.58,0.62,0.6],
  [0.75,0.85,0.9,0.88,0.85,0.8,0.82,0.78,0.75,0.8,0.85,0.82,0.8,0.78,0.75,0.78,0.8,0.75,0.78,0.8,0.75,0.72,0.7],
  [1.15,1.1,1.05,1.0,1.05,1.08,1.02,1.0,0.98,1.02,1.05,1.0,1.02,1.05,1.0,0.98,0.95,0.92,0.88,0.85,0.8,0.78,0.75],
  [1.05,1.02,0.98,1.0,1.05,1.02,1.0,0.98,1.02,1.05,1.08,1.1,1.12,1.15,1.35,1.38,1.35,1.32,1.38,1.35,1.38,1.3,1.32],
  [0.45,0.42,0.48,0.5,0.52,0.5,0.48,0.55,0.6,0.58,0.55,0.6,0.62,0.65,0.68,0.7,0.72,0.68,0.65,0.62,0.6,0.58,0.55],
  [1.45,1.42,1.45,1.4,1.38,1.35,1.32,1.3,1.28,1.25,1.22,1.2,1.18,1.2,1.18,1.15,1.12,1.15,1.12,1.1,1.08,1.05,1.02],
  [0.8,0.78,0.75,0.8,0.82,0.85,0.88,0.85,0.82,0.8,0.78,0.82,0.85,0.88,0.85,0.82,0.8,0.78,0.82,0.8,0.78,0.75,0.78],
  [1.3,1.28,1.32,1.25,1.28,1.3,1.25,1.22,1.2,1.18,1.2,1.15,1.18,1.2,1.15,1.12,1.1,1.12,1.08,1.1,1.05,1.02,1.0],
  [1.5,1.45,1.42,1.4,1.38,1.35,1.32,1.3,1.28,1.25,1.22,1.2,1.18,1.2,1.18,1.15,1.12,1.15,1.12,1.1,1.12,1.1,1.08],
  [0.85,0.8,0.75,0.72,0.8,0.85,0.78,0.72,0.75,0.8,0.78,0.82,0.85,0.8,0.75,0.72,0.7,0.68,0.72,0.7,0.68,0.65,0.7],
  [1.2,1.15,1.1,1.12,1.1,1.05,1.08,1.1,1.05,1.02,1.0,1.05,1.08,1.1,1.12,1.15,1.18,1.2,1.15,1.12,1.18,1.15,1.18],
  [0.9,0.92,0.95,0.98,1.0,0.98,0.95,0.92,0.9,0.88,0.85,0.82,0.8,0.78,0.75,0.72,0.7,0.68,0.65,0.62,0.6,0.58,0.6],
  [0.7,0.72,0.75,0.78,0.8,0.78,0.75,0.72,0.7,0.72,0.75,0.78,0.8,0.82,0.8,0.78,0.75,0.72,0.7,0.72,0.75,0.72,0.7],
  [0.55,0.52,0.48,0.45,0.42,0.45,0.5,0.55,0.58,0.55,0.52,0.55,0.58,0.6,0.62,0.6,0.58,0.55,0.58,0.6,0.62,0.6,0.58],
  [0.95,0.98,1.0,0.95,0.92,0.9,0.88,0.85,0.82,0.85,0.88,0.9,0.92,0.95,0.98,1.0,1.05,1.02,1.0,0.98,0.95,0.92,0.9],
  [1.1,1.12,1.15,1.18,1.2,1.22,1.2,1.18,1.2,1.22,1.2,1.18,1.15,1.18,1.15,1.12,1.1,1.12,1.15,1.18,1.12,1.08,1.05],
];

const jumpVAV: number[][] = [
  [1.3,1.28,1.25,1.3,1.28,1.25,1.22,1.2,1.18,1.15,1.12,1.1,1.08,1.05,1.08,1.05,1.1,1.12,1.15,1.18,1.15,1.18,1.2],
  [1.42,1.45,1.48,1.52,1.5,1.48,1.45,1.48,1.45,1.46,1.5,1.52,1.5,1.55,1.5,1.45,1.42,1.44,1.42,1.4,1.42,1.44,1.42],
  [1.2,1.15,1.22,1.18,1.2,1.15,1.1,1.12,1.15,1.2,1.25,1.22,1.18,1.2,1.15,1.1,1.05,1.08,1.1,1.05,1.0,1.02,1.0],
  [1.38,1.4,1.42,1.38,1.4,1.38,1.35,1.38,1.4,1.42,1.4,1.38,1.4,1.42,1.4,1.38,1.4,1.42,1.44,1.45,1.42,1.44,1.45],
  [1.0,1.05,1.02,0.98,0.95,1.0,1.05,1.02,1.0,0.98,1.0,1.05,1.02,1.08,1.1,1.15,1.12,1.1,1.15,1.12,1.1,1.15,1.12],
  [1.45,1.4,1.35,1.3,1.28,1.25,1.2,1.22,1.18,1.15,1.12,1.1,1.08,1.05,1.02,1.0,0.98,0.95,0.92,0.9,0.88,0.85,0.82],
  [0.6,0.58,0.6,0.56,0.58,0.55,0.58,0.6,0.56,0.55,0.58,0.6,0.56,0.58,0.55,0.58,0.6,0.62,0.65,0.68,0.7,0.68,0.65],
  [0.95,0.9,0.92,0.88,0.85,0.9,0.88,0.85,0.82,0.85,0.88,0.85,0.82,0.8,0.78,0.8,0.75,0.72,0.75,0.78,0.8,0.75,0.7],
  [1.1,1.15,1.2,1.18,1.15,1.2,1.25,1.22,1.2,1.25,1.3,1.28,1.25,1.22,1.2,1.15,1.12,1.1,1.05,1.02,1.0,0.95,0.9],
  [1.0,0.95,1.05,1.0,0.95,0.98,1.0,0.95,0.92,0.95,0.98,1.0,0.95,0.92,0.95,0.9,0.92,0.95,0.98,1.0,1.05,0.8,0.75],
  [0.85,0.9,0.88,0.85,0.82,0.85,0.88,0.9,0.92,0.95,0.98,1.0,0.98,0.95,0.98,1.02,1.05,1.08,1.1,1.12,1.15,1.18,1.2],
  [0.75,0.72,0.78,0.8,0.75,0.72,0.7,0.72,0.75,0.78,0.8,0.75,0.72,0.7,0.65,0.62,0.65,0.6,0.58,0.6,0.62,0.6,0.62],
  [0.7,0.75,0.72,0.78,0.75,0.8,0.78,0.82,0.85,0.8,0.78,0.82,0.8,0.78,0.8,0.82,0.85,0.82,0.8,0.78,0.82,0.8,0.78],
  [0.55,0.6,0.8,0.75,0.65,0.7,0.75,0.6,0.7,0.65,0.6,0.55,0.65,0.6,0.7,0.5,0.75,0.5,0.7,0.55,0.65,0.6,0.45],
  [1.15,1.2,1.18,1.15,1.12,1.1,1.05,1.0,0.95,0.9,0.85,0.88,0.9,0.85,0.82,0.8,0.78,0.75,0.72,0.7,0.72,0.75,0.78],
  [0.65,0.7,0.72,0.75,0.7,0.68,0.72,0.75,0.78,0.8,0.85,0.82,0.78,0.75,0.72,0.7,0.68,0.72,0.75,0.7,0.68,0.72,0.7],
  [1.25,1.2,1.15,1.18,1.22,1.25,1.22,1.2,1.18,1.22,1.25,1.28,1.25,1.22,1.2,1.25,1.28,1.3,1.32,1.3,1.28,1.25,1.2],
  [1.3,1.32,1.35,1.38,1.35,1.32,1.3,1.32,1.35,1.32,1.3,1.28,1.3,1.32,1.35,1.38,1.4,1.38,1.35,1.32,1.3,1.35,1.4],
  [1.3,1.32,1.28,1.25,1.22,1.2,1.22,1.18,1.15,1.12,1.1,1.08,1.05,1.02,1.0,0.98,1.0,1.02,1.05,1.08,1.1,1.12,1.15],
  [0.85,0.82,0.8,0.85,0.88,0.85,0.82,0.8,0.78,0.8,0.82,0.85,0.82,0.8,0.78,0.75,0.78,0.8,0.82,0.78,0.75,0.72,0.7],
  [1.1,1.05,1.08,1.1,1.12,1.15,1.1,1.05,1.02,1.0,1.02,1.05,1.08,1.1,1.08,1.05,1.02,1.0,0.98,0.95,0.92,0.95,0.9],
  [0.95,0.92,0.9,0.88,0.92,0.95,0.98,0.95,0.92,0.9,0.88,0.85,0.88,0.9,0.92,0.95,0.92,0.9,0.88,0.85,0.82,0.8,0.78],
  [1.05,1.08,1.1,1.05,1.02,1.0,0.98,0.95,0.98,1.0,1.02,1.05,1.02,1.0,0.98,0.95,0.92,0.9,0.92,0.95,0.9,0.88,0.85],
  [1.0,1.05,0.9,1.05,1.0,0.85,0.9,0.82,0.85,0.8,0.75,0.78,0.72,0.75,0.7,0.72,0.68,0.7,0.65,0.68,0.62,0.65,0.6],
];

const jumpVPV: number[][] = [
  [1.32,1.3,1.28,1.32,1.3,1.25,1.22,1.2,1.18,1.15,1.12,1.1,1.12,1.15,1.12,1.1,1.08,1.1,1.12,1.15,1.12,1.1,1.15],
  [1.45,1.48,1.52,1.5,1.48,1.45,1.48,1.45,1.42,1.45,1.42,1.4,1.38,1.4,1.38,1.35,1.32,1.35,1.38,1.45,1.4,1.38,1.35],
  [1.1,1.05,1.08,1.12,1.1,1.05,1.0,1.02,1.05,1.08,1.1,1.12,1.15,1.1,1.08,1.05,1.02,1.0,0.98,1.0,1.02,0.98,0.95],
  [0.9,1.05,0.85,0.8,0.75,0.8,0.72,0.8,0.7,0.72,0.9,1.05,0.95,1.05,1.0,0.95,1.1,1.0,1.05,0.95,1.0,0.98,1.0],
  [1.25,1.28,1.3,1.32,1.28,1.25,1.3,1.28,1.45,1.38,1.32,1.35,1.3,1.28,1.32,1.3,1.28,1.25,1.3,1.28,1.25,1.28,1.3],
  [1.4,1.38,1.42,1.38,1.35,1.32,1.35,1.3,1.28,1.3,1.25,1.28,1.3,1.28,1.25,1.22,1.2,1.22,1.2,1.18,1.2,1.22,1.2],
  [1.2,1.25,1.3,1.28,1.22,1.15,1.1,1.05,1.0,0.95,0.9,0.88,0.92,0.95,0.98,1.0,0.95,0.9,0.88,0.85,0.82,0.8,0.78],
  [0.75,0.78,0.8,0.78,0.75,0.72,0.75,0.78,0.8,0.82,0.85,0.88,0.9,0.92,0.95,0.98,1.0,1.02,1.05,1.08,1.05,1.02,1.08],
  [0.9,0.92,0.88,0.85,0.88,0.9,0.88,0.85,0.82,0.85,0.82,0.8,0.78,0.8,0.78,0.75,0.72,0.75,0.72,0.7,0.68,0.6,0.55],
  [0.8,0.82,0.78,0.75,0.7,0.72,0.75,0.72,0.7,0.72,0.75,0.78,0.75,0.72,0.7,0.72,0.75,0.78,0.75,0.72,0.7,0.68,0.7],
  [1.1,1.05,1.0,0.98,0.95,0.92,0.95,0.98,1.0,0.95,0.92,0.9,0.88,0.85,0.88,0.9,0.88,0.85,0.82,0.8,0.78,0.75,0.72],
  [0.65,0.68,0.7,0.65,0.68,0.7,0.72,0.7,0.68,0.65,0.68,0.7,0.65,0.62,0.65,0.6,0.62,0.58,0.6,0.62,0.65,0.62,0.6],
  [0.85,0.88,0.9,0.85,0.82,0.85,0.82,0.8,0.85,0.88,0.85,0.82,0.8,0.85,0.88,0.9,0.85,0.82,0.8,0.78,0.75,0.72,0.7],
  [0.6,0.58,0.62,0.65,0.5,0.55,0.6,0.58,0.55,0.6,0.62,0.65,0.62,0.6,0.65,0.68,0.7,0.72,0.7,0.68,0.72,0.7,0.68],
  [0.5,0.6,0.65,0.7,0.68,0.65,0.7,0.72,0.68,0.6,0.65,0.55,0.52,0.58,0.62,0.6,0.58,0.55,0.5,0.48,0.45,0.5,0.48],
  [1.2,1.18,1.15,1.12,1.1,1.15,1.18,1.15,1.12,1.1,1.08,1.1,1.12,1.15,1.12,1.1,1.08,1.05,1.02,1.0,1.05,1.02,1.0],
  [1.15,1.18,1.2,1.22,1.18,1.15,1.12,1.15,1.18,1.2,1.22,1.18,1.15,1.12,1.1,1.12,1.15,1.12,1.1,1.08,1.1,1.12,1.1],
  [1.05,1.08,1.1,1.05,1.02,1.0,1.05,1.08,1.1,1.12,1.15,1.18,1.15,1.12,1.1,1.15,1.18,1.2,1.25,1.3,1.35,1.38,1.4],
  [1.35,1.4,1.45,1.42,1.38,1.35,1.3,1.28,1.25,1.3,1.28,1.25,1.22,1.2,1.22,1.25,1.22,1.2,1.18,1.2,1.22,1.25,1.22],
  [1.0,0.98,0.95,0.92,0.95,0.98,1.0,0.98,0.95,0.92,0.9,0.92,0.95,0.98,1.0,0.98,0.95,0.92,0.9,0.92,0.95,0.98,1.0],
  [0.7,0.68,0.65,0.62,0.65,0.68,0.7,0.72,0.75,0.72,0.7,0.68,0.7,0.72,0.75,0.72,0.7,0.68,0.65,0.62,0.6,0.58,0.62],
  [1.25,1.22,1.2,1.18,1.15,1.18,1.2,1.22,1.25,1.28,1.3,1.28,1.25,1.22,1.2,1.18,1.15,1.12,1.1,1.08,1.12,1.15,1.18],
  [0.8,0.85,0.88,0.9,0.88,0.85,0.82,0.85,0.88,0.9,0.92,0.9,0.88,0.85,0.88,0.9,0.92,0.95,0.92,0.9,0.88,0.92,0.95],
  [0.62,0.58,0.55,0.6,0.62,0.58,0.5,0.55,0.52,0.58,0.6,0.62,0.65,0.62,0.6,0.65,0.68,0.7,0.72,0.7,0.75,0.72,0.7],
];

type Panel = {
  title: string;
  times: number[];
  series: number[][];
  box: [number, number, number, number];
  fs: number;
  xm: number;
  ym: number;
  tx: number;
  ty: number;
};

const panels: Panel[] = [
  { title: 'Retinotopic - V', times: retinoTimes, series: retinotopicV, box: [83.5, 16, 527.7, 312], fs: 19, xm: 13.6, ym: 12, tx: 99, ty: 24 },
  { title: 'Retinotopic - AV', times: retinoTimes, series: retinotopicAV, box: [601, 16, 1029, 304], fs: 18.5, xm: 15.4, ym: 5, tx: 612, ty: 24 },
  { title: 'Retinotopic \u2013 V-AV', times: retinoTimes, series: retinotopicVAV, box: [86.5, 386.7, 527, 676], fs: 19.5, xm: 15.1, ym: 13.5, tx: 99, ty: 386 },
  { title: 'Retinotopic \u2013 V-PV', times: retinoTimes, series: retinotopicVPV, box: [600, 386.7, 1028, 675], fs: 18.5, xm: 14.4, ym: 12, tx: 612, ty: 385 },
  { title: 'Jump - V', times: jumpTimes, series: jumpV, box: [88, 870, 534.3, 1149], fs: 20, xm: 12.9, ym: 13, tx: 98.5, ty: 868 },
  { title: 'Jump - AV', times: jumpTimes, series: jumpAV, box: [598, 867, 1033, 1148], fs: 21.5, xm: 15.4, ym: 15, tx: 612, ty: 867 },
  { title: 'Jump \u2013 V-AV', times: jumpTimes, series: jumpVAV, box: [86, 1252, 536.7, 1543], fs: 20.5, xm: 14.7, ym: 13.5, tx: 98.5, ty: 1252.7 },
  { title: 'Jump \u2013 V-PV', times: jumpTimes, series: jumpVPV, box: [601, 1252, 1030, 1543], fs: 19.5, xm: 14.1, ym: 13, tx: 612, ty: 1252.7 },
];

const YW = 70;
const TM = 22;
const RM = 40;
const XH = 50;

function Chart({ p }: { p: Panel }) {
  const [x0, y0, x1, y1] = p.box;
  const rows = p.times.map((t, i) => {
    const r: Record<string, number> = { t };
    p.series.forEach((s, j) => {
      r['s' + j] = s[i];
    });
    return r;
  });
  const tick = { fontSize: p.fs, fill: '#000', fontFamily: FONT };
  return (
    <div style={{ position: 'absolute', left: x0 - YW, top: y0 - TM }}>
      <LineChart
        width={x1 - x0 + YW + RM}
        height={y1 - y0 + TM + XH}
        data={rows}
        margin={{ top: TM, right: RM, left: 0, bottom: 0 }}
        style={{ overflow: 'visible' }}
      >
        <XAxis
          dataKey="t"
          type="number"
          domain={[-200, 900]}
          ticks={xTicks}
          interval={0}
          tickSize={7}
          tickMargin={p.xm}
          height={XH}
          axisLine={{ stroke: AXIS, strokeWidth: 1.5 }}
          tickLine={{ stroke: AXIS, strokeWidth: 1.5 }}
          tick={tick}
          allowDataOverflow
        />
        <YAxis
          type="number"
          domain={[-2, 2]}
          ticks={yTicks}
          interval={0}
          tickSize={7}
          tickMargin={p.ym}
          width={YW}
          axisLine={{ stroke: AXIS, strokeWidth: 1.5 }}
          tickLine={{ stroke: AXIS, strokeWidth: 1.5 }}
          tick={tick}
          allowDataOverflow
        />
        {p.series.map((_, j) => (
          <Line
            key={j}
            type="linear"
            dataKey={'s' + j}
            stroke={colors[j % colors.length]}
            strokeWidth={2.2}
            dot={false}
            activeDot={false}
            isAnimationActive={false}
          />
        ))}
      </LineChart>
      <div
        style={{
          position: 'absolute',
          left: p.tx - (x0 - YW),
          top: p.ty - (y0 - TM) - 11.6,
          fontSize: 19.2,
          lineHeight: '22px',
          fontFamily: FONT,
          color: '#000',
          whiteSpace: 'nowrap',
        }}
      >
        {p.title}
      </div>
    </div>
  );
}

function RotLabel({ text, cx, cy }: { text: string; cx: number; cy: number }) {
  return (
    <div
      style={{
        position: 'absolute',
        left: cx,
        top: cy,
        transform: 'translate(-50%, -50%) rotate(-90deg)',
        fontSize: 21.5,
        fontFamily: FONT,
        color: '#000',
        whiteSpace: 'nowrap',
      }}
    >
      {text}
    </div>
  );
}

function HLabel({ text, cx, cy }: { text: string; cx: number; cy: number }) {
  return (
    <div
      style={{
        position: 'absolute',
        left: cx,
        top: cy,
        transform: 'translate(-50%, -50%)',
        fontSize: 21,
        fontFamily: FONT,
        color: '#000',
        whiteSpace: 'nowrap',
      }}
    >
      {text}
    </div>
  );
}

export default function App() {
  return (
    <div
      style={{
        position: 'absolute',
        left: 0,
        top: 0,
        width: 1054,
        height: 1622,
        background: '#fff',
        overflow: 'hidden',
      }}
    >
      {panels.map((p, i) => (
        <Chart key={i} p={p} />
      ))}
      <RotLabel text="Eye Position (deg)" cx={18.5} cy={166} />
      <RotLabel text="Eye position (deg)" cx={18.5} cy={1005} />
      <HLabel text="Time (ms)" cx={311} cy={1605} />
      <HLabel text="Time (ms)" cx={815} cy={1605} />
    </div>
  );
}
